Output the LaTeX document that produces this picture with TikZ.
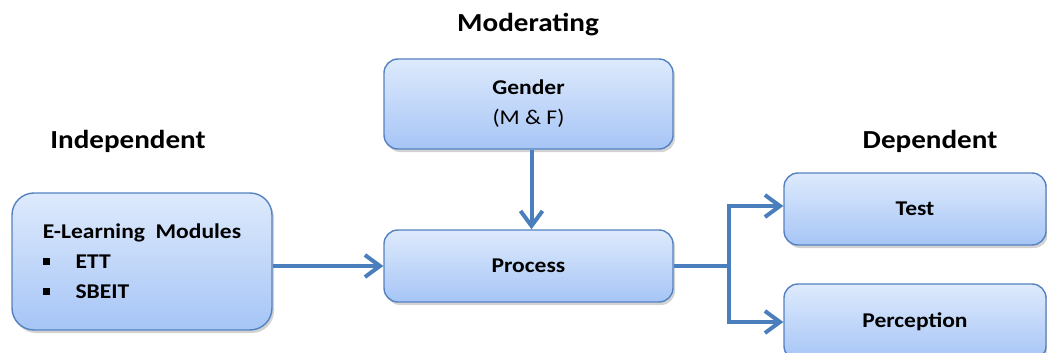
\documentclass[tikz,border=0pt]{standalone}
\usepackage{fontspec}
\setmainfont{Carlito}[FakeStretch=1.12]
\usepackage{tikz}
\usetikzlibrary{arrows.meta,shadows}
\definecolor{boxtop}{RGB}{222,234,252}
\definecolor{boxbot}{RGB}{166,197,246}
\definecolor{boxline}{RGB}{84,130,192}
\definecolor{linkblue}{RGB}{74,126,188}
\newcommand{\sqbul}{\rule[0.2em]{0.32em}{0.32em}}
\pgfkeys{tikz/varbox/.style={draw=boxline, line width=1.4pt,
                                 rounded corners=14pt,
                                 top color=boxtop, bottom color=boxbot,
                                 drop shadow={shadow xshift=2pt, shadow yshift=-3pt, opacity=0.35},
                                 inner sep=0pt, align=center,
                                 font=\fontsize{21}{30}\selectfont\bfseries}}
\pgfkeys{tikz/heading/.style={font=\fontsize{26}{30}\selectfont\bfseries}}
\pgfkeys{tikz/link/.style={draw=linkblue, line width=4pt}}
\pgfkeys{tikz/linkarrow/.style={link, -{Straight Barb[length=15pt,width=22pt,line width=4pt]}}}

\begin{document}
\begin{tikzpicture}[x=1pt, y=-1pt]
            \useasboundingbox (0,0) rectangle (1047,353);
            \clip (0,0) rectangle (1047,353);

            \node[heading] (hmod) at (528, 25) {Moderating};
            \node[heading] (hind) at (128, 141) {Independent};
            \node[heading] (hdep) at (930, 141) {Dependent};

            \node[varbox, minimum width=289pt, minimum height=90pt] (gender) at (528.5, 104)
                    {Gender\\ \mdseries (M \& F)};
            \node[varbox, minimum width=289pt, minimum height=72pt] (process) at (528.5, 266) {Process};
            \node[varbox, rounded corners=22pt, minimum width=260pt, minimum height=137pt, align=left] (elearn) at (142, 261.5)
                    {E-Learning~ Modules\\ \sqbul\hspace{26pt}ETT\\ \sqbul\hspace{26pt}SBEIT};
            \node[varbox, minimum width=262pt, minimum height=72pt] (test) at (915, 209) {Test};
            \node[varbox, minimum width=262pt, minimum height=76pt] (percep) at (915, 322) {Perception};

            \coordinate (fork) at (729, 266);

            \draw[linkarrow] (elearn.east |- process.west) -- (process.west);
            \draw[linkarrow] ([xshift=3pt]gender.south) -- ([xshift=3pt]process.north);
            \draw[link] (process.east) -- (fork);
            \draw[linkarrow] (fork) |- ([yshift=3pt]test.west);
            \draw[linkarrow] (fork) |- (percep.west);
\end{tikzpicture}
\end{document}
